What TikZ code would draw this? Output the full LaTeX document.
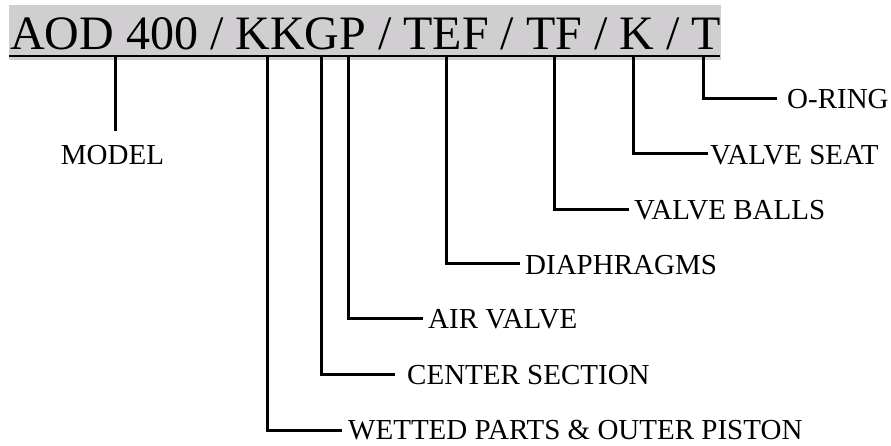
\documentclass[tikz,border=0pt]{standalone}
\usepackage{fontspec}
\newfontfamily\tnrA{Liberation Serif}
\newfontfamily\tnrB{LiberationSerif-Regular.ttf}
\newcommand\lblfont{\tnrB\fontsize{29}{29}\selectfont}
\newcommand\titlefont{\tnrA\fontsize{40}{40}\selectfont}
\begin{document}
\begin{tikzpicture}[x=1pt,y=-1pt,
  lbl/.style={anchor=base west,inner sep=0pt},
  conn/.style={line width=3pt},
  ]
\useasboundingbox (0,0) rectangle (891,446);
\fill[fill={rgb,255:red,208;green,206;blue,208}] (9,5) rectangle (721,60);
\node[anchor=base west,inner sep=0pt,scale=1.2] (title) at (10,50) {\titlefont AOD 400 / KKGP / TEF / TF / K / T};
\draw[line width=2.4pt] (9,56) -- (720,56);
% top points on underline
\coordinate (t1) at (115,56);
\coordinate (t2) at (267,56);
\coordinate (t3) at (321,56);
\coordinate (t4) at (348,56);
\coordinate (t5) at (446,56);
\coordinate (t6) at (554,56);
\coordinate (t7) at (633,56);
\coordinate (t8) at (703,56);
% labels
\node[anchor=base,inner sep=0pt] (model) at (112.5,165) {\lblfont MODEL};
\node[lbl] (wet) at (348,439) {\lblfont WETTED PARTS \& OUTER PISTON};
\node[lbl] (center) at (407,384.5) {\lblfont CENTER SECTION};
\node[lbl] (air) at (428,328.5) {\lblfont AIR VALVE};
\node[lbl] (dia) at (525,274) {\lblfont DIAPHRAGMS};
\node[lbl] (balls) at (634,220) {\lblfont VALVE BALLS};
\node[lbl] (seat) at (710,164.5) {\lblfont VALVE SEAT};
\node[lbl] (oring) at (787,109) {\lblfont O-RING};
% connector ends
\coordinate (e1) at (115,131);
\coordinate (e2) at (342,430);
\coordinate (e3) at (395,374);
\coordinate (e4) at (423,318);
\coordinate (e5) at (520,264);
\coordinate (e6) at (629,210);
\coordinate (e7) at (708,154);
\coordinate (e8) at (777,99);
\draw[conn] (t1) -- (e1);
\draw[conn] (t2) |- (e2);
\draw[conn] (t3) |- (e3);
\draw[conn] (t4) |- (e4);
\draw[conn] (t5) |- (e5);
\draw[conn] (t6) |- (e6);
\draw[conn] (t7) |- (e7);
\draw[conn] (t8) |- (e8);
\end{tikzpicture}
\end{document}
